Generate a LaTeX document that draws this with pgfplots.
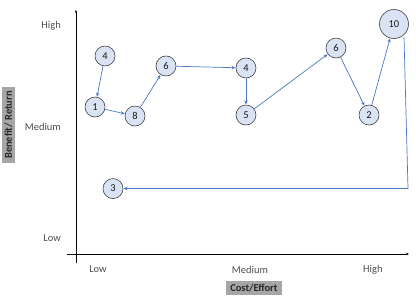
\documentclass[border=0pt]{standalone}
\usepackage{pgfplots}
\pgfplotsset{compat=1.18}
\usepackage{fontspec}
\setmainfont{Carlito}
\usetikzlibrary{arrows.meta}
\definecolor{cfill}{HTML}{DAE3F3}
\definecolor{cdraw}{HTML}{404040}
\definecolor{arr}{HTML}{4A76C6}
\definecolor{lblbox}{HTML}{A6A6A6}
\definecolor{ticktxt}{HTML}{4D4D4D}
\pgfplotsset{
  arrw/.style={arr, line width=0.7pt, -{Stealth[length=4bp,width=3.5bp]}, shorten <=10.5bp, shorten >=10.5bp},
}
\begin{document}
\begin{tikzpicture}
\begin{axis}[
  scale only axis, width=342bp, height=253bp,
  xmin=-2.7, xmax=100.5, ymin=-3.7, ymax=100,
  axis lines=middle,
  axis line style={black, line width=0.8pt, -{Stealth[length=3bp,width=2.5bp]}},
  clip=false,
  xtick={6.65,52.5,89.6}, xticklabels={Low,Medium,High},
  ytick={6.55,52.0,93.4}, yticklabels={Low,Medium,High},
  major tick length=0pt,
  tick label style={font=\fontsize{10.5}{12}\selectfont, text=ticktxt, inner sep=0pt},
  xticklabel style={anchor=center, yshift=-15.5bp},
  yticklabel style={anchor=east, xshift=-15bp},
  xlabel={Cost/Effort}, ylabel={Benefit/ Return},
  every axis x label/.style={at={(axis cs:53.7,-13.95)}, anchor=center, fill=lblbox, text=black!85, font=\bfseries\fontsize{10.5}{12}\selectfont, inner xsep=4bp, inner ysep=3bp},
  every axis y label/.style={at={(axis cs:-20.35,52.86)}, anchor=center, rotate=90, fill=lblbox, text=black!85, font=\bfseries\fontsize{10.5}{12}\selectfont, inner xsep=4bp, inner ysep=3bp},
]
\addplot[arrw] coordinates {(8.77,81.15) (5.75,60.24)};
\addplot[arrw] coordinates {(5.75,60.24) (17.82,56.55)};
\addplot[arrw] coordinates {(17.82,56.55) (27.17,77.05)};
\addplot[arrw] coordinates {(27.17,77.05) (51.31,76.23)};
\addplot[arrw] coordinates {(51.31,76.23) (51.31,56.96)};
\addplot[arrw] coordinates {(51.31,56.96) (78.47,84.42)};
\addplot[arrw] coordinates {(78.47,84.42) (88.43,56.96)};
\addplot[arrw, shorten >=15bp] coordinates {(88.43,56.96) (95.97,94.26)};
\addplot[arrw, shorten <=0bp] coordinates {(98.99,88.93) (100.2,26.8) (11.18,26.8)};

\addplot[only marks, mark=*, mark size=10bp, draw=cdraw, fill=cfill, mark options={line width=0.6pt},
  nodes near coords, point meta=explicit symbolic,
  every node near coord/.style={anchor=center, font=\fontsize{10.5}{12}\selectfont, text=black!90}]
  table[meta=l] {
x y l
8.77 81.15 4
5.75 60.24 1
17.82 56.55 8
27.17 77.05 6
51.31 76.23 4
51.31 56.96 5
78.47 84.42 6
88.43 56.96 2
11.18 26.8 3
};
\addplot[only marks, mark=*, mark size=14.5bp, draw=cdraw, fill=cfill, mark options={line width=0.6pt},
  nodes near coords, point meta=explicit symbolic,
  every node near coord/.style={anchor=center, font=\fontsize{10.5}{12}\selectfont, text=black!90}]
  table[meta=l] {
x y l
95.97 94.26 10
};
\coordinate (BL) at (axis cs:-22.92,-18.05);
\coordinate (TR) at (axis cs:102.61,104.1);
\end{axis}
\pgfresetboundingbox
\path[use as bounding box] (BL) rectangle (TR);
\end{tikzpicture}
\end{document}
